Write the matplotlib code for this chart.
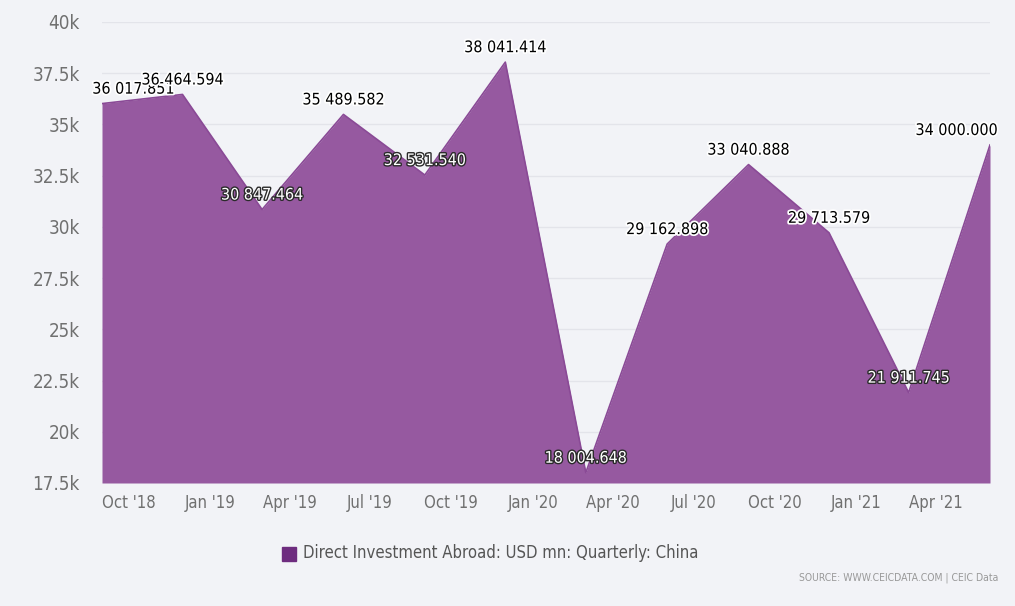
import matplotlib
matplotlib.use("Agg")
import matplotlib.pyplot as plt
import matplotlib.patheffects as pe
from matplotlib.ticker import FuncFormatter
import datetime as dt

# ---- data ----
periods = ["2018-09", "2018-12", "2019-03", "2019-06", "2019-09", "2019-12",
           "2020-03", "2020-06", "2020-09", "2020-12", "2021-03", "2021-06"]
values = [36017.851, 36464.594, 30847.464, 35489.582, 32531.540, 38041.414,
          18004.648, 29162.898, 33040.888, 29713.579, 21911.745, 34000.000]
tick_months = ["2018-10", "2019-01", "2019-04", "2019-07", "2019-10", "2020-01",
               "2020-04", "2020-07", "2020-10", "2021-01", "2021-04"]
y_ticks = [17500, 20000, 22500, 25000, 27500, 30000, 32500, 35000, 37500, 40000]
series_name = "Direct Investment Abroad: USD mn: Quarterly: China"
source_text = "SOURCE: WWW.CEICDATA.COM | CEIC Data"

def to_date(s):
    y, m = s.split("-")
    return dt.datetime(int(y), int(m), 1)

x = [to_date(p) for p in periods]
xt = [to_date(t) for t in tick_months]

plt.rcParams['font.family'] = ['DejaVu Sans']
plt.rcParams['font.stretch'] = 'condensed'

W, H = 1015, 606
fig = plt.figure(figsize=(W / 100, H / 100), dpi=100)
bg = "#f2f3f7"
fig.patch.set_facecolor(bg)
ax = fig.add_axes([102 / W, (H - 483) / H, (990 - 102) / W, (483 - 22) / H])
ax.set_facecolor(bg)

fill_col = "#9659a0"
ax.fill_between(x, values, 17500, color=fill_col, linewidth=0, zorder=2)
ax.plot(x, values, color="#8a4a96", linewidth=1.2, zorder=3)

ax.set_ylim(17500, 40000)
ax.set_xlim(x[0], x[-1])
ax.set_yticks(y_ticks)
ax.yaxis.set_major_formatter(FuncFormatter(lambda v, p: f"{v/1000:g}k"))
ax.set_xticks(xt)
ax.set_xticklabels([d.strftime("%b '%y") for d in xt])
ax.grid(axis="y", color="#e3e4ea", linewidth=1, zorder=1)
for s in ax.spines.values():
    s.set_visible(False)
ax.tick_params(axis="both", length=0, colors="#707070")
ax.tick_params(axis="x", pad=8, labelsize=12)
ax.tick_params(axis="y", pad=16, labelsize=13.5)

def fmt(v):
    return f"{v:,.3f}".replace(",", " ")

n = len(values)
for i, (xi, v) in enumerate(zip(x, values)):
    ha = "center"
    dx = 0
    if i == 0:
        ha, dx = "left", -7
    elif i == n - 1:
        ha, dx = "right", 6
    local_min = 0 < i < n - 1 and v < values[i - 1] and v < values[i + 1]
    if local_min:
        tcol, ocol, lw = "white", "#2a2a2a", 2.0
    else:
        tcol, ocol, lw = "black", "white", 2.5
    ax.annotate(fmt(v), (xi, v), xytext=(dx, 5), textcoords="offset points",
                ha=ha, va="bottom", fontsize=11.5, color=tcol, zorder=5,
                annotation_clip=False,
                path_effects=[pe.withStroke(linewidth=lw, foreground=ocol)])

# legend
fig.patches.append(plt.Rectangle((282 / W, (H - 561) / H), 14 / W, 14 / H,
                                 transform=fig.transFigure, color="#6e2c7f"))
fig.text(303 / W, (H - 553) / H, series_name, fontsize=12, color="#555555",
         va="center", ha="left")
fig.text(998 / W, (H - 578) / H, source_text, fontsize=7.5, color="#999999",
         va="center", ha="right")

fig.savefig("out.png", dpi=100, facecolor=bg)
